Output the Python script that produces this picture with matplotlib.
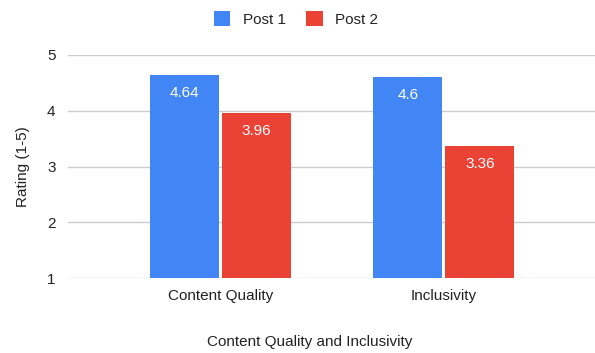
import matplotlib.pyplot as plt
import numpy as np

plt.rcParams['font.family'] = ['Liberation Sans', 'DejaVu Sans']

CATEGORIES = ['Content Quality', 'Inclusivity']
SERIES = ['Post 1', 'Post 2']
POST_1 = [4.64, 4.6]
POST_2 = [3.96, 3.36]
COLORS = ['#4285F4', '#EA4335']
TEXT_COLOR = '#222222'

fig = plt.figure(figsize=(5.95, 3.53), dpi=100)
ax = fig.add_axes([68 / 595, 1 - 278 / 353, 1 - 68 / 595, (278 - 55) / 353])

x = np.arange(len(CATEGORIES))
width = 0.309
offset = 0.161
base = 1

# bars start from the bottom of the axis (1), labels sit inside near the top
for values, color, label, shift in zip([POST_1, POST_2], COLORS, SERIES, [-offset, offset]):
    heights = [v - base for v in values]
    bars = ax.bar(x + shift, heights, width, bottom=base, color=color, label=label, zorder=3)
    for rect, v in zip(bars, values):
        ax.text(rect.get_x() + rect.get_width() / 2, v - 0.32, f'{v:g}',
                ha='center', va='center', color='white', fontsize=11, zorder=4)

ax.set_xlim(-0.682, 1.676)
ax.set_ylim(1, 5)
ax.set_yticks([1, 2, 3, 4, 5])
ax.set_xticks(x)
ax.set_xticklabels(CATEGORIES)
ax.grid(axis='y', color='#cccccc', linewidth=1, zorder=0)
ax.tick_params(axis='both', length=0, labelsize=11, labelcolor=TEXT_COLOR)
ax.tick_params(axis='y', pad=9)
ax.tick_params(axis='x', pad=8)
for side in ax.spines.values():
    side.set_visible(False)

ax.set_ylabel('Rating (1-5)', fontsize=11, color=TEXT_COLOR, labelpad=12)
fig.text(310 / 595, 1 - 342 / 353, 'Content Quality and Inclusivity',
         ha='center', va='center', fontsize=11, color=TEXT_COLOR)

fig.legend(loc='center', bbox_to_anchor=(296 / 595, 1 - 19 / 353), ncol=2, frameon=False,
           fontsize=11, handlelength=1.1, handleheight=1.1, handletextpad=0.8,
           columnspacing=1.35, labelcolor=TEXT_COLOR)

fig.savefig('out.png', dpi=100)
